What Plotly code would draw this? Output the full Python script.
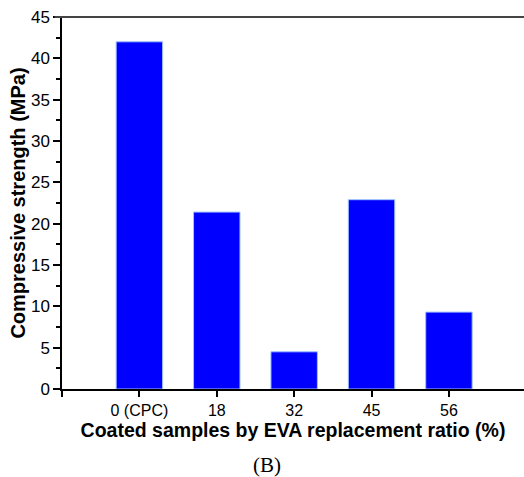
import plotly.graph_objects as go

# EVA replacement ratio categories and measured compressive strength (MPa)
categories = ["0 (CPC)", "18", "32", "45", "56"]
strength = [42.0, 21.4, 4.5, 22.9, 9.3]

positions = list(range(len(categories)))

fig = go.Figure()
fig.add_trace(go.Bar(
    x=positions,
    y=strength,
    width=0.6,
    marker=dict(color="#0000FF", line=dict(color="#9CC2FF", width=1)),
    showlegend=False,
))

fig.update_layout(
    width=524,
    height=477,
    margin=dict(l=62, r=0, t=17, b=88),
    paper_bgcolor="white",
    plot_bgcolor="white",
    font=dict(family="Liberation Sans, Arial, sans-serif", color="black"),
    bargap=0.4,
)

fig.update_xaxes(
    range=[-1, 4.97],
    tickmode="array",
    tickvals=[-1] + positions,
    ticktext=[""] + categories,
    ticks="outside",
    ticklen=6,
    tickwidth=1.5,
    tickcolor="black",
    tickfont=dict(size=16),
    showline=True,
    linecolor="black",
    linewidth=1.5,
    showgrid=False,
    zeroline=False,
    title=dict(
        text="<b>Coated samples by EVA replacement ratio (%)</b>",
        font=dict(size=19.5),
        standoff=0,
    ),
)

fig.update_yaxes(
    range=[0, 45],
    tickmode="linear",
    tick0=0,
    dtick=5,
    ticks="outside",
    ticklen=7,
    tickwidth=1.5,
    tickcolor="black",
    tickfont=dict(size=17),
    minor=dict(ticks="outside", ticklen=4, dtick=2.5, tickwidth=1.5, tickcolor="black"),
    showline=True,
    linecolor="black",
    linewidth=1.5,
    showgrid=False,
    zeroline=False,
    title=dict(
        text="<b>Compressive strength (MPa)</b>",
        font=dict(size=20),
        standoff=0,
    ),
)

# frame lines extending slightly past the y axis
fig.add_shape(type="line", xref="paper", yref="paper",
              x0=-0.016, x1=1.0, y0=1.0, y1=1.0,
              line=dict(color="#444444", width=2))
fig.add_shape(type="line", xref="paper", yref="paper",
              x0=-0.018, x1=0.0, y0=0.0, y1=0.0,
              line=dict(color="black", width=1.5))

fig.add_annotation(
    text="(B)",
    xref="paper", yref="paper",
    x=(267 - 62) / 462, y=-(465 - 389) / 372,
    xanchor="center", yanchor="middle",
    showarrow=False,
    font=dict(family="Liberation Serif, Times New Roman, serif", size=21, color="black"),
)

fig.write_html("out.html")
